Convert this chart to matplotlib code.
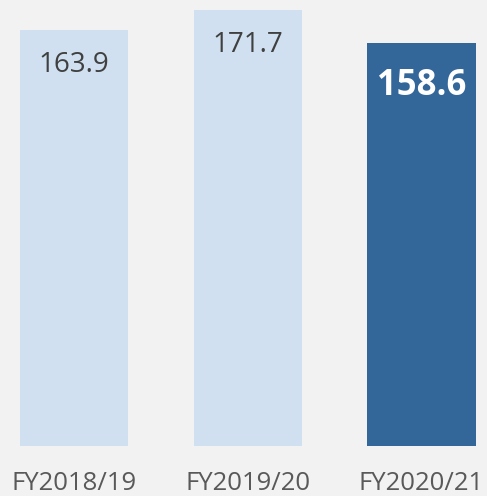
import matplotlib.pyplot as plt

plt.rcParams['font.family'] = ['Open Sans', 'DejaVu Sans']

years = ['FY2018/19', 'FY2019/20', 'FY2020/21']
values = [163.9, 171.7, 158.6]
colors = ['#d0e0f0', '#d0e0f0', '#336699']

fig = plt.figure(figsize=(4.87, 4.96), dpi=100, facecolor='#f2f2f2')
ax = fig.add_axes([0, 0.1014, 1, 0.8951])
ax.set_facecolor('#f2f2f2')

x = range(len(years))
ax.bar(x, values, width=0.625, color=colors)

# value labels inside the top of each bar
for i, v in enumerate(values):
    if i == len(values) - 1:
        ax.annotate(f'{v:.1f}', (i, v), xytext=(0, -30.5), textcoords='offset points',
                    ha='center', va='center', fontsize=25, fontweight='bold', color='white')
    else:
        ax.annotate(f'{v:.1f}', (i, v), xytext=(0, -25), textcoords='offset points',
                    ha='center', va='center', fontsize=20, color='#404040')

ax.set_xlim(-0.4274, 2.378)
ax.set_ylim(0, 175)
ax.set_xticks(list(x))
ax.set_xticklabels(years, fontsize=18.5, color='#595959')
ax.tick_params(axis='x', length=0, pad=18)
ax.set_yticks([])
for s in ax.spines.values():
    s.set_visible(False)

plt.savefig('out.png', facecolor=fig.get_facecolor())
